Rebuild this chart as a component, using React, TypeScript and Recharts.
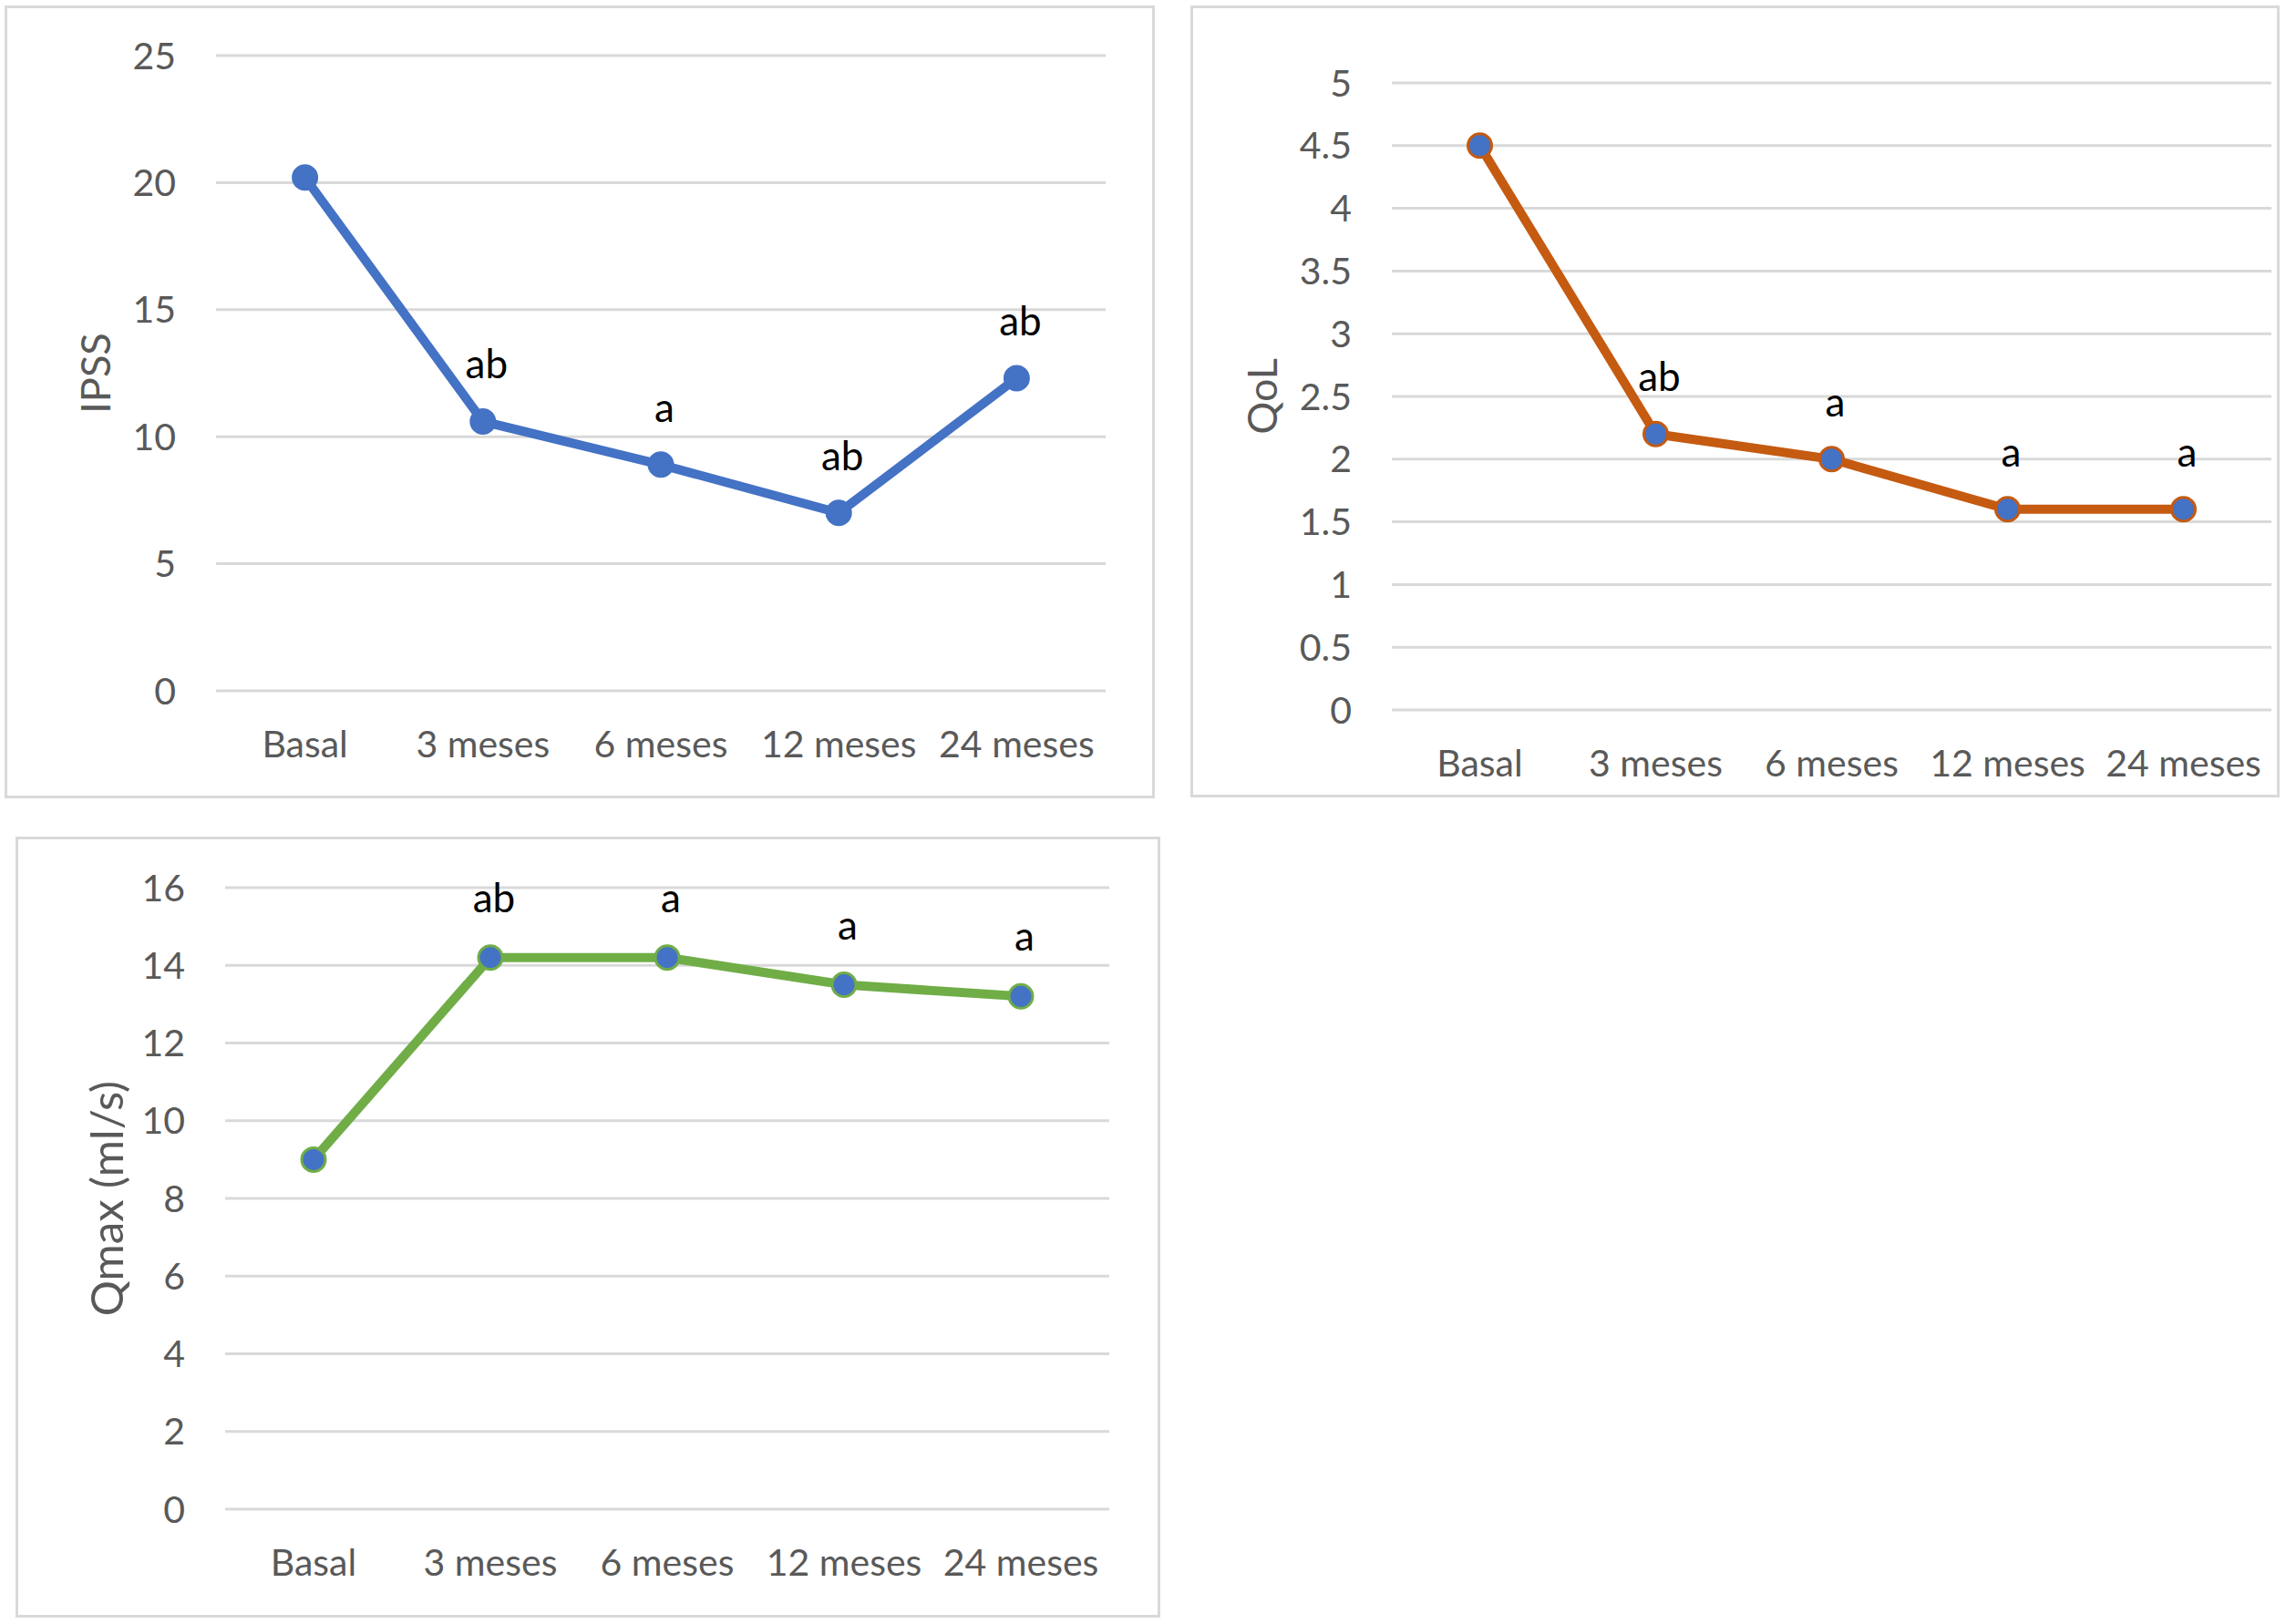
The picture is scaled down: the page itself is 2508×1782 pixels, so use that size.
import React from "react";
import { CartesianGrid, LabelList, Line, LineChart, XAxis, YAxis } from "recharts";

const months = ["Basal", "3 meses", "6 meses", "12 meses", "24 meses"];

const ipss = [20.2, 10.6, 8.9, 7.0, 12.3];
const ipssSig = ["", "ab", "a", "ab", "ab"];
const ipssTicks = [0, 5, 10, 15, 20, 25];

const qol = [4.5, 2.2, 2.0, 1.6, 1.6];
const qolSig = ["", "ab", "a", "a", "a"];
const qolTicks = [0, 0.5, 1, 1.5, 2, 2.5, 3, 3.5, 4, 4.5, 5];

const qmax = [9.0, 14.2, 14.2, 13.5, 13.2];
const qmaxSig = ["", "ab", "a", "a", "a"];
const qmaxTicks = [0, 2, 4, 6, 8, 10, 12, 14, 16];

const FONT = "Lato, 'Noto Sans', sans-serif";
const GRAY = "#595959";
const GRID = "#D9D9D9";
const BLUE = "#4472C4";

function toRows(values: number[], sig: string[]) {
  return months.map((m, i) => ({ month: m, value: values[i], sig: sig[i] }));
}

type PanelProps = {
  left: number;
  top: number;
  width: number;
  height: number;
  plot: { left: number; top: number; right: number; bottom: number };
  values: number[];
  sig: string[];
  ticks: number[];
  title: string;
  titleX: number;
  titleSize: number;
  color: string;
  labelLift: number;
};

function Panel(p: PanelProps) {
  const rows = toRows(p.values, p.sig);
  const plotW = p.plot.right - p.plot.left;
  const pad = plotW / months.length / 2;
  const yAxisW = p.plot.left - p.left;
  const xAxisH = p.top + p.height - p.plot.bottom;

  const renderSig = (props: any) => {
    const { x, y, value } = props;
    if (!value) return null;
    return (
      <text x={x + 4} y={y - p.labelLift} textAnchor="middle" fill="#000" fontSize={44} fontFamily={FONT}>
        {value}
      </text>
    );
  };

  const renderTitle = (props: any) => {
    const vb = props.viewBox;
    const cx = vb.x + p.titleX;
    const cy = vb.y + vb.height / 2;
    return (
      <text
        x={cx}
        y={cy}
        dy={p.titleSize * 0.35}
        transform={`rotate(-90, ${cx}, ${cy})`}
        textAnchor="middle"
        fill={GRAY}
        fontSize={p.titleSize}
        fontFamily={FONT}
      >
        {p.title}
      </text>
    );
  };

  return (
    <>
      <div
        style={{
          position: "absolute",
          left: p.left,
          top: p.top,
          width: p.width,
          height: p.height,
          border: `3px solid ${GRID}`,
          boxSizing: "border-box",
          background: "#fff",
        }}
      />
      <div style={{ position: "absolute", left: p.left, top: p.top }}>
        <LineChart
          width={p.width}
          height={p.height}
          data={rows}
          margin={{ top: p.plot.top - p.top, right: p.left + p.width - p.plot.right, bottom: 0, left: 0 }}
        >
          <CartesianGrid vertical={false} stroke={GRID} strokeWidth={3} />
          <XAxis
            dataKey="month"
            interval={0}
            axisLine={false}
            tickLine={false}
            tickSize={0}
            tickMargin={44}
            height={xAxisH}
            padding={{ left: pad, right: pad }}
            tick={{ fill: GRAY, fontSize: 41, fontFamily: FONT }}
          />
          <YAxis
            domain={[p.ticks[0], p.ticks[p.ticks.length - 1]]}
            ticks={p.ticks}
            interval={0}
            axisLine={false}
            tickLine={false}
            tickSize={0}
            tickMargin={44}
            width={yAxisW}
            tick={{ fill: GRAY, fontSize: 41, fontFamily: FONT }}
            label={{ content: renderTitle }}
          />
          <Line
            type="linear"
            dataKey="value"
            stroke={p.color}
            strokeWidth={10}
            dot={{ r: 13, fill: BLUE, stroke: p.color, strokeWidth: 3 }}
            activeDot={false}
            isAnimationActive={false}
          >
            <LabelList dataKey="sig" content={renderSig} />
          </Line>
        </LineChart>
      </div>
    </>
  );
}

export default function App() {
  return (
    <div style={{ position: "absolute", left: 0, top: 0, width: 2508, height: 1782, background: "#fff", fontFamily: FONT }}>
      <Panel
        left={5}
        top={6}
        width={1262}
        height={870}
        plot={{ left: 237, top: 61, right: 1213, bottom: 758 }}
        values={ipss}
        sig={ipssSig}
        ticks={ipssTicks}
        title="IPSS"
        titleX={100}
        titleSize={45}
        color={BLUE}
        labelLift={47}
      />
      <Panel
        left={1306}
        top={6}
        width={1195}
        height={869}
        plot={{ left: 1527, top: 91, right: 2492, bottom: 779 }}
        values={qol}
        sig={qolSig}
        ticks={qolTicks}
        title="QoL"
        titleX={79}
        titleSize={45}
        color="#C55A11"
        labelLift={47}
      />
      <Panel
        left={17}
        top={918}
        width={1256}
        height={857}
        plot={{ left: 247, top: 974, right: 1217, bottom: 1656 }}
        values={qmax}
        sig={qmaxSig}
        ticks={qmaxTicks}
        title="Qmax (ml/s)"
        titleX={101}
        titleSize={49}
        color="#70AD47"
        labelLift={50}
      />
    </div>
  );
}
